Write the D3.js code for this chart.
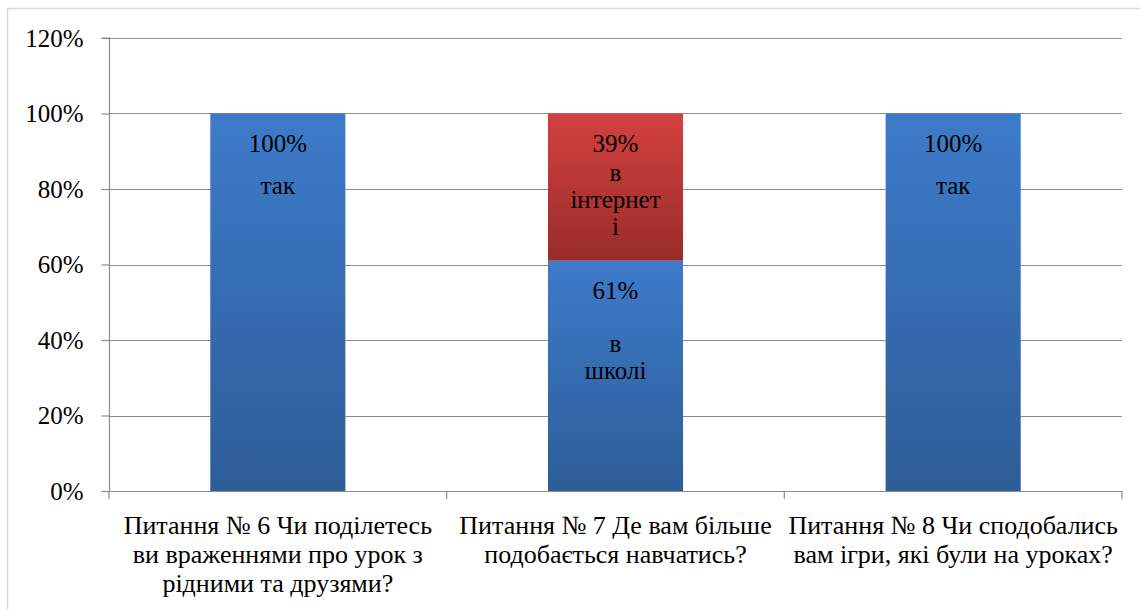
<!DOCTYPE html>
<html><head><meta charset="utf-8">
<script src="https://cdn.jsdelivr.net/npm/d3@7"></script>
<style>html,body{margin:0;padding:0;background:#fff;}svg{display:block;}</style>
</head><body>
<script>
const categories = [
  ["Питання № 6 Чи поділетесь", "ви враженнями про урок з", "рідними та друзями?"],
  ["Питання № 7 Де вам більше", "подобається навчатись?"],
  ["Питання № 8 Чи сподобались", "вам ігри, які були на уроках?"]
];
const seriesBlueValues = [100, 61, 100];
const seriesRedValues = [0, 39, 0];
const blueNames = [["так"], ["в", "школі"], ["так"]];
const redNames = [[], ["в", "інтернет", "і"], []];
const yTicks = [0, 20, 40, 60, 80, 100, 120];
const yTickLabels = ["0%", "20%", "40%", "60%", "80%", "100%", "120%"];

(function () {
const W = 1140, H = 609;
const FONT = '"Liberation Serif"';
const svg = d3.select("body").append("svg").attr("width", W).attr("height", H);

svg.append("rect").attr("x", 7.5).attr("y", 8.5).attr("width", W).attr("height", H + 20)
  .attr("fill", "#fff").attr("stroke", "#d9d9d9").attr("stroke-width", 1.5);

const pLeft = 109, pRight = 1122, pTop = 38, pBottom = 491;
const x = d3.scaleBand().domain(d3.range(categories.length)).range([pLeft, pRight]).paddingInner(0.6).paddingOuter(0.3);
const y = d3.scaleLinear().domain([0, 120]).range([pBottom, pTop]);

const defs = svg.append("defs");
function grad(id, c0, c1) {
  const g = defs.append("linearGradient").attr("id", id).attr("x1", 0).attr("y1", 0).attr("x2", 0).attr("y2", 1);
  g.append("stop").attr("offset", "0%").attr("stop-color", c0);
  g.append("stop").attr("offset", "100%").attr("stop-color", c1);
}
grad("gBlue", "#3d7bca", "#2d5d97");
grad("gRed", "#d3413f", "#982c2a");

// gridlines
svg.append("g").selectAll("line").data(yTicks.filter(d => d > 0)).join("line")
  .attr("x1", pLeft).attr("x2", pRight).attr("y1", d => Math.round(y(d)) + 0.5).attr("y2", d => Math.round(y(d)) + 0.5)
  .attr("stroke", "#8c8c8c").attr("stroke-width", 1.2);

// y axis
const yAxis = d3.axisLeft(y).tickValues(yTicks).tickFormat((d, i) => yTickLabels[i]).tickSize(8).tickPadding(18);
const ya = svg.append("g").attr("transform", `translate(${pLeft + 0.5},0)`).call(yAxis);
ya.select(".domain").attr("stroke", "#8c8c8c").attr("stroke-width", 1.2).attr("d", `M-8,${pTop}H0V${pBottom}`);
ya.selectAll(".tick line").attr("stroke", "#8c8c8c").attr("stroke-width", 1.2);
ya.selectAll(".tick text").style("font-family", FONT).attr("font-size", 25).attr("fill", "#000").attr("dy", "0.33em");

// x axis baseline + ticks at category boundaries
const step = (pRight - pLeft) / categories.length;
svg.append("line").attr("x1", pLeft).attr("x2", pRight).attr("y1", pBottom + 0.5).attr("y2", pBottom + 0.5)
  .attr("stroke", "#8c8c8c").attr("stroke-width", 1.2);
svg.append("g").selectAll("line").data(d3.range(categories.length + 1)).join("line")
  .attr("x1", d => pLeft + d * step).attr("x2", d => pLeft + d * step)
  .attr("y1", pBottom).attr("y2", pBottom + 8).attr("stroke", "#8c8c8c").attr("stroke-width", 1.2);

// bars
const bw = x.bandwidth();
const barG = svg.append("g");
categories.forEach((c, i) => {
  const xc = x(i);
  barG.append("rect").attr("x", xc).attr("width", bw)
    .attr("y", y(seriesBlueValues[i])).attr("height", y(0) - y(seriesBlueValues[i])).attr("fill", "url(#gBlue)");
  if (seriesRedValues[i] > 0) {
    const t = seriesBlueValues[i] + seriesRedValues[i];
    barG.append("rect").attr("x", xc).attr("width", bw)
      .attr("y", y(t)).attr("height", y(seriesBlueValues[i]) - y(t)).attr("fill", "url(#gRed)");
  }
});

// data labels
const lblG = svg.append("g").attr("fill", "#000").attr("text-anchor", "middle");
function label(cx, segTop, value, names, nameStart) {
  lblG.append("text").attr("x", cx).attr("y", segTop + 38).style("font-family", FONT).attr("font-size", 25).text(value + "%");
  names.forEach((n, k) => {
    lblG.append("text").attr("x", cx).attr("y", segTop + nameStart + k * 27)
      .style("font-family", FONT).attr("font-size", 25).text(n);
  });
}
const nameStartBlue = [80, 91, 80];
const nameStartRed = [0, 67, 0];
categories.forEach((c, i) => {
  const cx = x(i) + bw / 2;
  label(cx, y(seriesBlueValues[i]), seriesBlueValues[i], blueNames[i], nameStartBlue[i]);
  if (seriesRedValues[i] > 0) {
    label(cx, y(seriesBlueValues[i] + seriesRedValues[i]), seriesRedValues[i], redNames[i], nameStartRed[i]);
  }
});

// category labels
const catG = svg.append("g").attr("fill", "#000").attr("text-anchor", "middle");
categories.forEach((lines, i) => {
  const cx = pLeft + (i + 0.5) * step;
  lines.forEach((l, k) => {
    catG.append("text").attr("x", cx).attr("y", 534 + k * 29).style("font-family", FONT).attr("font-size", 26).text(l);
  });
});
})();
</script>
</body></html>
